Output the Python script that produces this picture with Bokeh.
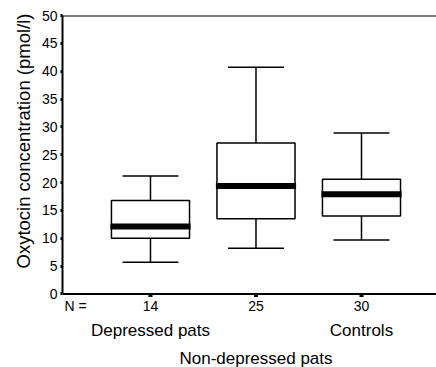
from bokeh.plotting import figure
from bokeh.models import Range1d, Span, FixedTicker, Title, Label
from bokeh.embed import file_html
from bokeh.resources import INLINE

# Data
groups = ["Depressed pats", "Non-depressed pats", "Controls"]
n_counts = ["14", "25", "30"]
n_label = "N ="
lower_whisker = [5.7, 8.2, 9.7]
q1 = [10.0, 13.5, 14.0]
median = [12.1, 19.4, 17.9]
q3 = [16.8, 27.1, 20.6]
upper_whisker = [21.2, 40.7, 28.9]
y_ticks = [0, 5, 10, 15, 20, 25, 30, 35, 40, 45, 50]

FONT = "Liberation Sans"
xs = [i + 1 for i in range(len(groups))]
n_pos = 0.185
box_w = 0.74
cap_w = 0.53
px = 1 / 5.57          # one pixel in data units (vertical)
y_bottom = -13.2       # extra room below zero for the category texts

p = figure(width=436, height=367, output_backend="svg", toolbar_location=None,
           x_range=Range1d(0.166, 3.711), y_range=Range1d(y_bottom, 50.0),
           min_border_left=62, min_border_right=0, min_border_top=15,
           min_border_bottom=0)
p.outline_line_color = None
p.grid.visible = False
p.background_fill_color = "white"
p.border_fill_color = "white"
p.xaxis.visible = False

# boxes
p.vbar(x=xs, width=box_w, bottom=q1, top=q3, fill_color="white",
       line_color="black", line_width=1.5)
# whiskers
p.segment(x0=xs, x1=xs, y0=q3, y1=upper_whisker, line_color="black", line_width=1.5)
p.segment(x0=xs, x1=xs, y0=q1, y1=lower_whisker, line_color="black", line_width=1.5)
# caps
p.segment(x0=[x - cap_w / 2 for x in xs], x1=[x + cap_w / 2 for x in xs],
          y0=upper_whisker, y1=upper_whisker, line_color="black", line_width=1.5)
p.segment(x0=[x - cap_w / 2 for x in xs], x1=[x + cap_w / 2 for x in xs],
          y0=lower_whisker, y1=lower_whisker, line_color="black", line_width=1.5)
# medians
p.segment(x0=[x - box_w / 2 - 0.01 for x in xs], x1=[x + box_w / 2 + 0.01 for x in xs],
          y0=median, y1=median, line_color="black", line_width=6)

# top frame line and bottom axis line
p.add_layout(Span(location=50.0, dimension="width", line_color="black", line_width=2))
p.add_layout(Span(location=0.0, dimension="width", line_color="black", line_width=2))

# bottom axis tick marks
p.segment(x0=xs, x1=xs, y0=[0] * len(xs), y1=[-3 * px] * len(xs),
          line_color="black", line_width=4)

# y axis
p.yaxis.bounds = (0, 50)
p.yaxis.ticker = FixedTicker(ticks=y_ticks)
p.yaxis.axis_line_width = 2
p.yaxis.major_tick_out = 2
p.yaxis.major_tick_in = 0
p.yaxis.major_tick_line_width = 3
p.yaxis.minor_tick_line_color = None
p.yaxis.major_label_standoff = 3
p.yaxis.major_label_text_font = FONT
p.yaxis.major_label_text_font_size = "14px"
p.yaxis.major_label_text_color = "black"

# bottom texts
row_n = -12.5 * px
row_a = -37.0 * px
row_b = -65.0 * px
p.add_layout(Label(x=n_pos, y=row_n, text=n_label, text_font=FONT, text_font_size="14px",
                   text_align="left", text_baseline="middle", text_color="black"))
for x, n in zip(xs, n_counts):
    p.add_layout(Label(x=x, y=row_n, text=n, text_font=FONT, text_font_size="14px",
                       text_align="center", text_baseline="middle", text_color="black"))
for i, g in enumerate(groups):
    p.add_layout(Label(x=xs[i], y=row_b if i == 1 else row_a, text=g, text_font=FONT,
                       text_font_size="17px", text_align="center",
                       text_baseline="middle", text_color="black"))

p.add_layout(Title(text="Oxytocin concentration (pmol/l)", align="left",
                   text_font=FONT, text_font_size="18.5px", text_font_style="normal",
                   text_color="black", offset=99), "left")

open("out.html", "w").write(file_html(p, INLINE))
